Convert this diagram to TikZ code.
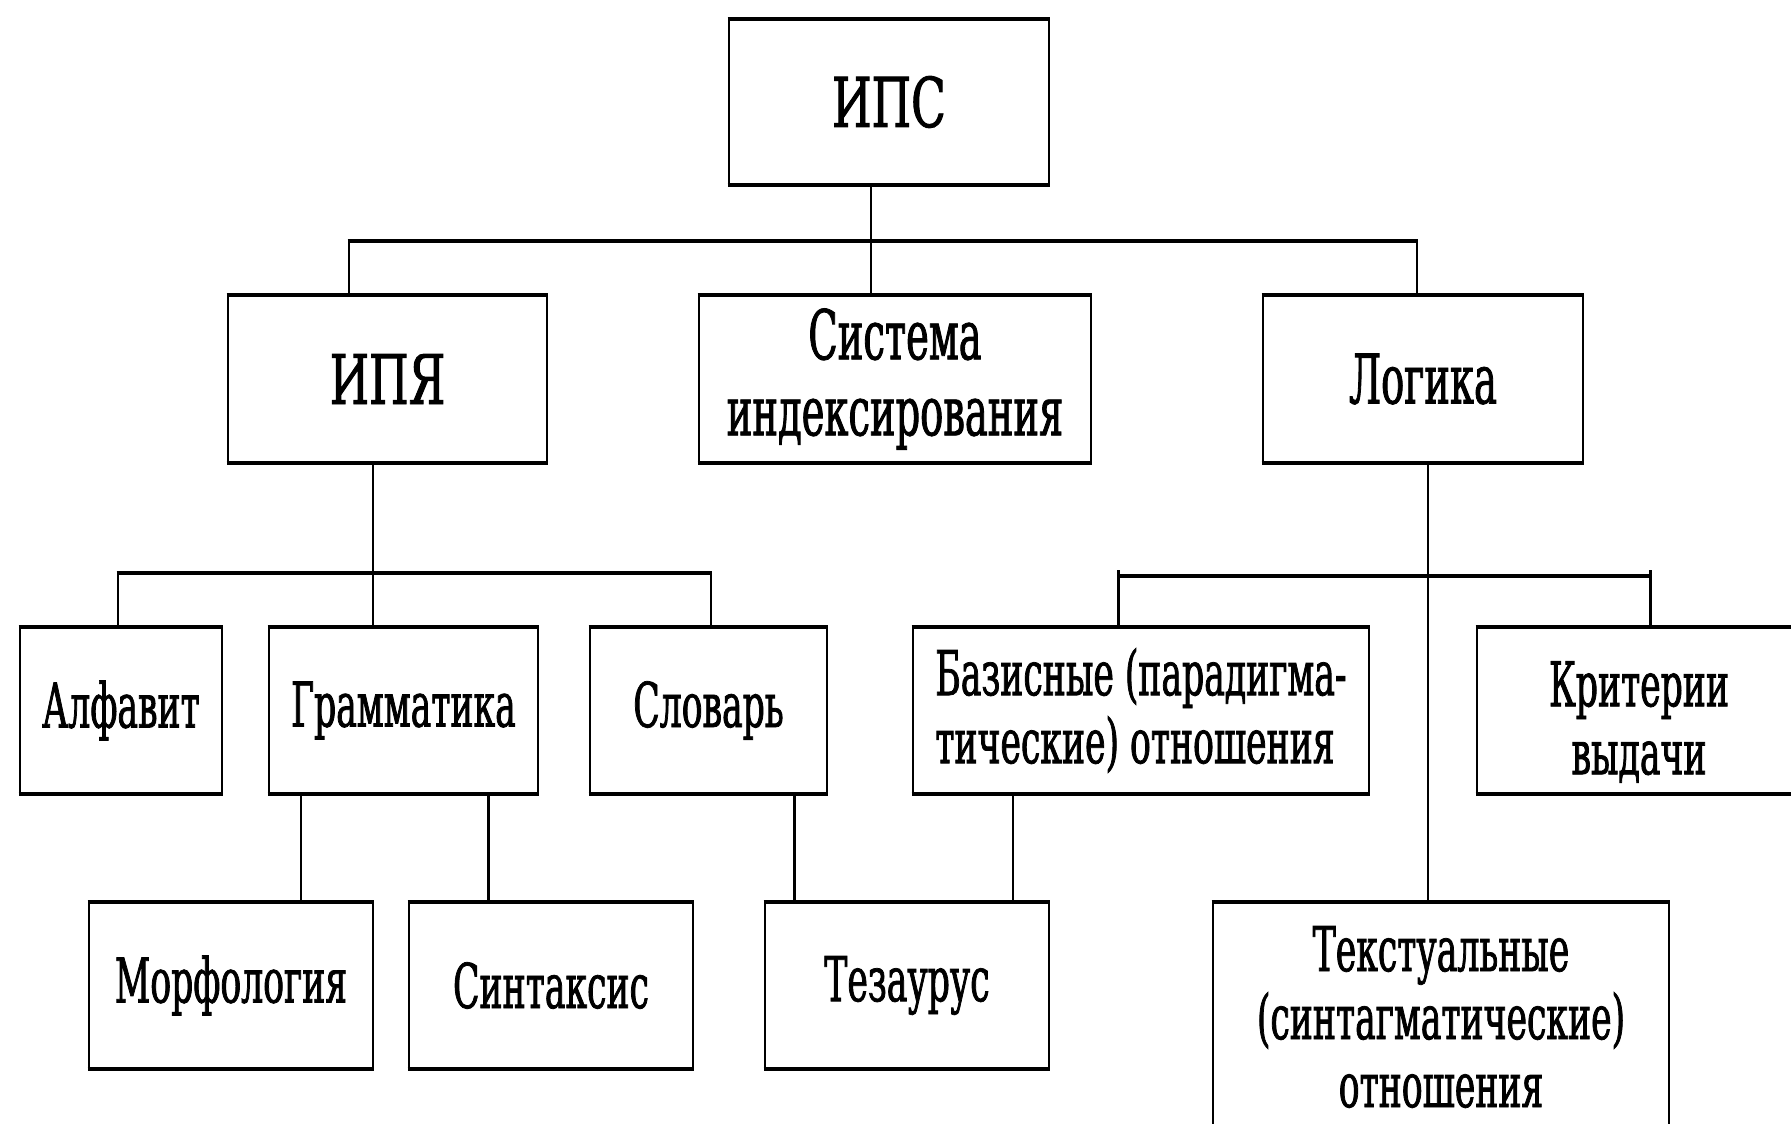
\documentclass[tikz,border=0pt]{standalone}
\usepackage{fontspec}
\setmainfont{DejaVu Serif}
\newfontfamily\boxfont[FakeStretch=0.56,FakeBold=1.2]{DejaVu Serif}
\newfontfamily\abbrfont[FakeStretch=0.66,FakeBold=1.4]{DejaVu Serif}

\tikzset{
  vline/.style={line width=1.3pt},
  hline/.style={line width=2.1pt, shorten <=-0.65pt, shorten >=-0.65pt},
  box/.style={draw, line width=1.3pt, inner sep=0pt, outer sep=0pt, align=center},
  corners/.style n args={4}{
    minimum width={(#3-#1)*0.5pt}, minimum height={(#4-#2)*0.5pt},
    at={({(#1+#3)/2},{(#2+#4)/2})}},
  big/.style={font=\boxfont\fontsize{34.3}{38}\selectfont},
  small/.style={font=\boxfont\fontsize{30.9}{34}\selectfont},
  abbr/.style={font=\abbrfont\fontsize{34.3}{36}\selectfont},
}

\begin{document}
\begin{tikzpicture}[x=0.5pt, y=-0.5pt]
  \useasboundingbox (0,0) rectangle (1791,1123);
  \fill[white] (0,0) rectangle (1791,1123);
  \clip (0,0) rectangle (1791,1123);

  % top level
  \node[box, abbr, corners={729}{19}{1049}{185}] (ips) {ИПС};

  % second level
  \node[box, abbr, corners={228}{295}{547}{463}] (ipya) {ИПЯ};
  \node[box, big, corners={699}{295}{1091}{463}] (sys) {Система\\индексирования};
  \node[box, big, corners={1263}{295}{1583}{463}] (logic) {Логика};

  % third level
  \node[box, small, corners={20}{627}{222}{794}] (alf) {Алфавит};
  \node[box, small, corners={269}{627}{538}{794}] (gram) {Грамматика};
  \node[box, small, corners={590}{627}{827}{794}] (slov) {Словарь};
  \node[box, small, align=left, corners={913}{627}{1369}{794}] (baz)
    {Базисные (парадигма-\\тические) отношения};
  \node[box, corners={1477}{627}{1801}{794}] (krit) {};
  \node[small, align=center, inner sep=0pt] (kritlabel) at (1639,722)
    {Критерии\\выдачи};

  % fourth level
  \node[box, small, corners={89}{902}{373}{1069}] (morf) {Морфология};
  \node[box, small, corners={409}{902}{693}{1069}] (sint) {Синтаксис};
  \node[box, small, corners={765}{902}{1049}{1069}] (tez) {Тезаурус};
  \node[box, small, corners={1213}{902}{1669}{1132}] (textual)
    {Текстуальные\\(синтагматические)\\отношения};

  % heavier top and bottom edges of the boxes
  \foreach \n in {ips,ipya,sys,logic,alf,gram,slov,baz,krit,morf,sint,tez,textual}{
    \draw[hline] (\n.north west) -- (\n.north east);
    \draw[hline] (\n.south west) -- (\n.south east);
  }

  % ИПС -> second level
  \coordinate (b1l) at (349,241);
  \coordinate (b1m) at (871,241);
  \coordinate (b1r) at (1417,241);
  \draw[vline] (ips.south -| b1m) -- (sys.north -| b1m);
  \draw[vline] (b1l) -- (ipya.north -| b1l);
  \draw[vline] (b1r) -- (logic.north -| b1r);
  \draw[hline] (b1l) -- (b1r);

  % ИПЯ -> third level
  \coordinate (b2l) at (118,573);
  \coordinate (b2m) at (373,573);
  \coordinate (b2r) at (711,573);
  \draw[vline] (ipya.south -| b2m) -- (gram.north -| b2m);
  \draw[vline] (b2l) -- (alf.north -| b2l);
  \draw[vline] (b2r) -- (slov.north -| b2r);
  \draw[hline] (b2l) -- (b2r);

  % Грамматика -> Морфология, Синтаксис
  \coordinate (gm) at (301,850);
  \coordinate (gs) at (488.5,850);
  \draw[vline] (gram.south -| gm) -- (morf.north -| gm);
  \draw[vline] (gram.south -| gs) -- (sint.north -| gs);

  % Словарь, Базисные -> Тезаурус
  \coordinate (st) at (794.5,850);
  \coordinate (bt) at (1013,850);
  \draw[vline] (slov.south -| st) -- (tez.north -| st);
  \draw[vline] (baz.south -| bt) -- (tez.north -| bt);

  % Логика -> relations and criteria
  \coordinate (lt) at (1428,850);
  \draw[vline] (logic.south -| lt) -- (textual.north -| lt);
  \coordinate (b3l) at (1118.5,576);
  \coordinate (b3r) at (1650.5,576);
  \draw[vline] ([yshift=3pt]b3l) -- (baz.north -| b3l);
  \draw[vline] ([yshift=3pt]b3r) -- (krit.north -| b3r);
  \draw[hline] (b3l) -- (b3r);
\end{tikzpicture}
\end{document}
